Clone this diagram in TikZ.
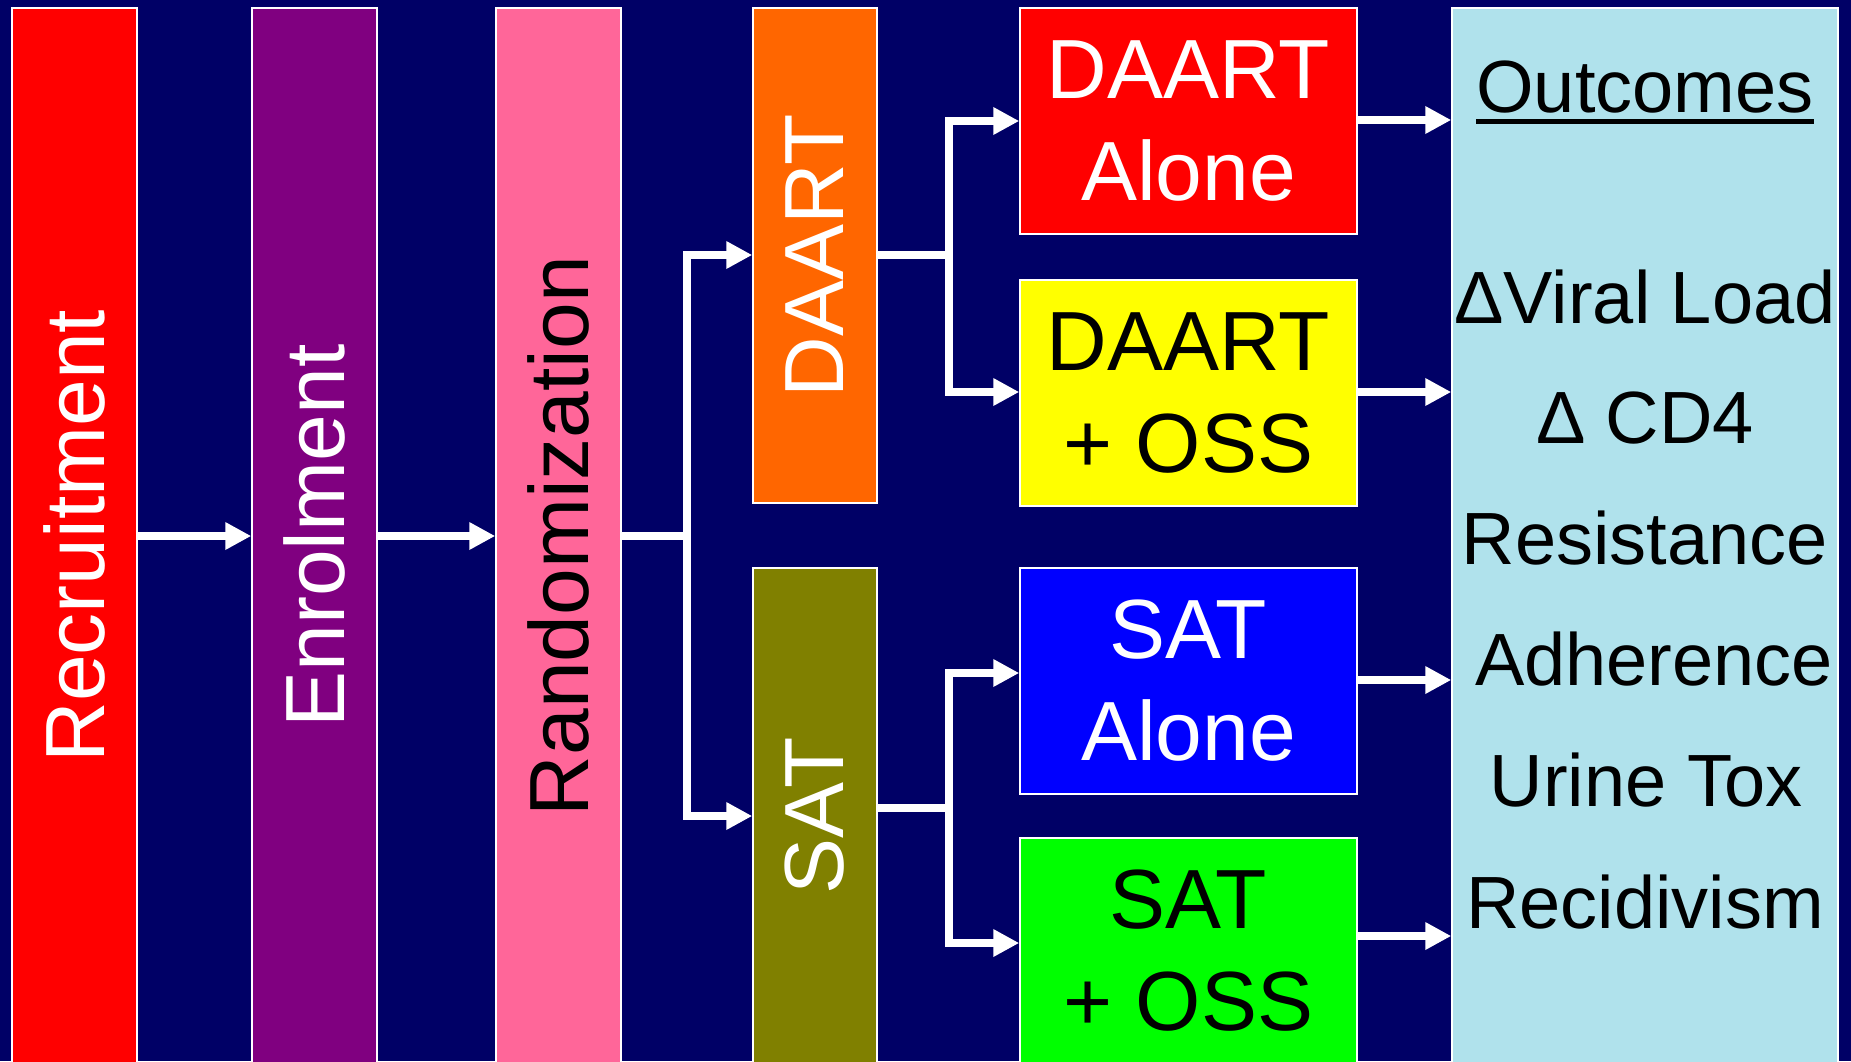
\documentclass[tikz,border=0pt]{standalone}
\usepackage{fontspec}
\setmainfont{Liberation Sans}
\usepackage{graphicx}
\usetikzlibrary{arrows.meta}
\definecolor{bgnavy}{RGB}{0,0,102}
\definecolor{recred}{RGB}{255,0,0}
\definecolor{enrpurple}{RGB}{128,0,128}
\definecolor{randpink}{RGB}{255,102,153}
\definecolor{daorange}{RGB}{255,102,0}
\definecolor{satolive}{RGB}{128,128,0}
\definecolor{dayellow}{RGB}{255,255,0}
\definecolor{satblue}{RGB}{0,0,255}
\definecolor{satgreen}{RGB}{0,255,0}
\definecolor{outblue}{RGB}{176,226,236}
\newcommand\ulbar[1]{\sbox0{#1}\rlap{\smash{\raisebox{-12pt}{\rule{\wd0}{5pt}}}}\usebox0}
\tikzset{
  box/.style={draw=white,line width=1.5pt,inner sep=0pt},
  bigtxt/.style={font=\fontsize{84}{102}\selectfont,align=center},
  outtxt/.style={font=\fontsize{74}{90}\selectfont,anchor=base,inner sep=0pt,text=black},
  arr/.style={draw=white,line width=8.5pt,-{Triangle[length=26pt,width=26pt]}}
}
\begin{document}
\begin{tikzpicture}[x=1pt,y=-1pt]
\useasboundingbox (0,0) rectangle (1851,1061);
\fill[bgnavy] (0,0) rectangle (1851,1061);

% tall stage boxes
\node[box,bigtxt,fill=recred,text=white,minimum width=125pt,minimum height=1056pt] (rec) at (74.5,536) {\rotatebox{90}{Recruitment}};
\node[box,bigtxt,fill=enrpurple,text=white,minimum width=125pt,minimum height=1056pt] (enr) at (314.5,536) {\rotatebox{90}{Enrolment}};
\node[box,bigtxt,fill=randpink,text=black,minimum width=125pt,minimum height=1056pt] (rand) at (558.5,536) {\rotatebox{90}{Randomization}};

% arms
\node[box,bigtxt,fill=daorange,text=white,minimum width=124pt,minimum height=495pt] (daart) at (815,255.5) {\rotatebox{90}{DAART}};
\node[box,bigtxt,fill=satolive,text=white,minimum width=124pt,minimum height=495pt] (sat) at (815,815.5) {\rotatebox{90}{SAT}};

% sub-arms
\node[box,bigtxt,fill=recred,text=white,minimum width=337pt,minimum height=226pt] (da) at (1188.5,121) {DAART\\Alone};
\node[box,bigtxt,fill=dayellow,text=black,minimum width=337pt,minimum height=226pt] (dos) at (1188.5,393) {DAART\\+ OSS};
\node[box,bigtxt,fill=satblue,text=white,minimum width=337pt,minimum height=226pt] (sa) at (1188.5,681) {SAT\\Alone};
\node[box,bigtxt,fill=satgreen,text=black,minimum width=337pt,minimum height=226pt] (sos) at (1188.5,951) {SAT\\+ OSS};

% outcomes
\node[box,fill=outblue,minimum width=386pt,minimum height=1056pt] (out) at (1645,536) {};
\node[outtxt] (o1) at (1645,112) {\ulbar{Outcomes}};
\node[outtxt] (o2) at (1645,323) {ΔViral Load};
\node[outtxt] (o3) at (1645,443) {Δ CD4};
\node[outtxt] (o4) at (1645,564) {Resistance};
\node[outtxt] (o5) at (1654,685) {Adherence};
\node[outtxt] (o6) at (1646,806) {Urine Tox};
\node[outtxt] (o7) at (1645,928) {Recidivism};

% connectors
\coordinate (j1) at (687,536);
\coordinate (j2) at (949,255);
\coordinate (j3) at (949,808);

\draw[arr] (rec.east |- 0,536) -- (enr.west |- 0,536);
\draw[arr] (enr.east |- 0,536) -- (rand.west |- 0,536);
\draw[arr] (rand.east |- j1) -- (j1) |- (daart.west |- 0,255);
\draw[arr] (rand.east |- j1) -- (j1) |- (sat.west |- 0,816);

\draw[arr] (daart.east |- j2) -- (j2) |- (da.west |- 0,121);
\draw[arr] (daart.east |- j2) -- (j2) |- (dos.west |- 0,392);
\draw[arr] (sat.east |- j3) -- (j3) |- (sa.west |- 0,673);
\draw[arr] (sat.east |- j3) -- (j3) |- (sos.west |- 0,943);

\draw[arr] (da.east |- 0,120) -- (out.west |- 0,120);
\draw[arr] (dos.east |- 0,392) -- (out.west |- 0,392);
\draw[arr] (sa.east |- 0,680) -- (out.west |- 0,680);
\draw[arr] (sos.east |- 0,936) -- (out.west |- 0,936);
\end{tikzpicture}
\end{document}
